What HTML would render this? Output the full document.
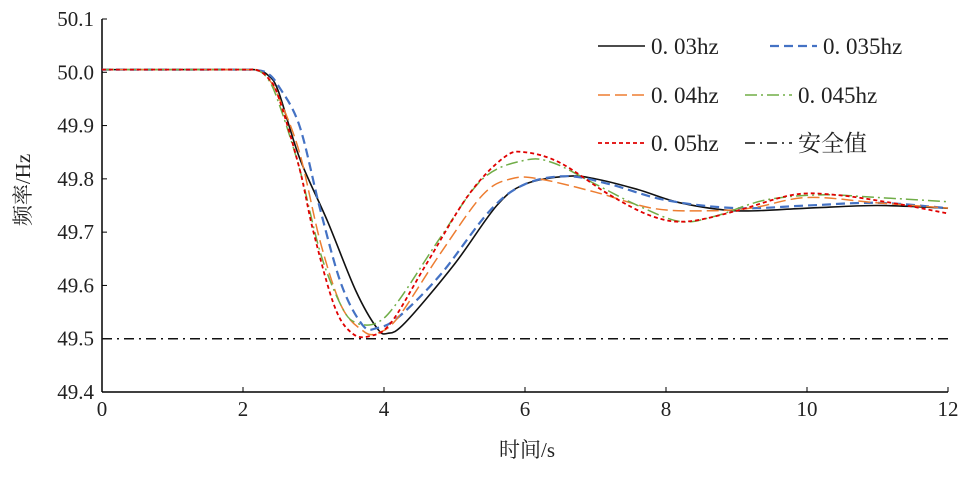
<!DOCTYPE html>
<html><head><meta charset="utf-8"><style>
html,body{margin:0;padding:0;background:#fff}
svg text{font-family:"Liberation Serif","Noto Serif CJK SC",serif;fill:#222}
</style></head><body>
<svg id="c" width="970" height="472" xmlns="http://www.w3.org/2000/svg"></svg>
<script>
const xTicks=[0,2,4,6,8,10,12];
const yTicks=[49.4,49.5,49.6,49.7,49.8,49.9,50.0,50.1];
const safeValue=49.5;
const t03=[0,1,2.0,2.2,2.35,2.5,2.8,3.2,3.6,3.9,4.05,4.3,5.0,5.6,6.0,6.6,7.0,7.6,8.2,9.0,10.0,11.0,12];
const f03=[50.005,50.005,50.005,50.004,49.995,49.965,49.84,49.72,49.59,49.52,49.51,49.53,49.64,49.75,49.79,49.805,49.80,49.78,49.755,49.74,49.745,49.75,49.745];
const t035=[0,1,2.0,2.2,2.35,2.5,2.8,3.1,3.4,3.7,3.9,4.2,4.8,5.5,6.0,6.6,7.2,8.0,9.0,10,11,12];
const f035=[50.005,50.005,50.005,50.004,49.998,49.975,49.90,49.74,49.60,49.525,49.52,49.54,49.62,49.74,49.79,49.805,49.79,49.76,49.745,49.75,49.755,49.745];
const t04=[0,1,2.0,2.2,2.35,2.5,2.8,3.1,3.4,3.7,3.9,4.2,4.8,5.4,5.8,6.2,7.0,7.8,8.5,9.2,10,11,12];
const f04=[50.005,50.005,50.005,50.004,49.99,49.955,49.85,49.68,49.56,49.515,49.51,49.54,49.66,49.77,49.80,49.80,49.775,49.745,49.74,49.745,49.765,49.755,49.745];
const t045=[0,1,2.0,2.2,2.35,2.5,2.8,3.1,3.4,3.6,3.9,4.2,4.8,5.4,6.0,6.4,7.0,7.6,8.2,8.7,9.4,10.2,11,12];
const f045=[50.005,50.005,50.005,50.004,49.988,49.945,49.82,49.66,49.56,49.53,49.53,49.57,49.69,49.80,49.835,49.83,49.79,49.75,49.72,49.73,49.76,49.77,49.765,49.757];
const t05=[0,1,2.0,2.2,2.35,2.5,2.8,3.0,3.3,3.55,3.8,4.1,4.6,5.2,5.7,6.0,6.5,7.2,7.8,8.3,9.0,9.8,10.4,11.2,12];
const f05=[50.005,50.005,50.005,50.004,49.99,49.955,49.82,49.70,49.56,49.51,49.505,49.53,49.64,49.77,49.84,49.85,49.83,49.77,49.73,49.72,49.74,49.77,49.77,49.755,49.735];

const NS="http://www.w3.org/2000/svg";
const svg=document.getElementById('c');
const X0=102,X1=948,Y0=392,Y1=19;
const xs=t=>X0+(t-0)/12*(X1-X0);
const ys=f=>Y0-(f-49.4)/0.7*(Y0-Y1);
function mk(tag,attrs,parent){const e=document.createElementNS(NS,tag);for(const k in attrs)e.setAttribute(k,attrs[k]);(parent||svg).appendChild(e);return e;}
function smooth(ts,fs){const p=ts.map((t,i)=>[xs(t),ys(fs[i])]);let d=`M${p[0][0]},${p[0][1]}`;
for(let i=0;i<p.length-1;i++){const p0=p[Math.max(0,i-1)],p1=p[i],p2=p[i+1],p3=p[Math.min(p.length-1,i+2)];
const c1=[p1[0]+(p2[0]-p0[0])/6,p1[1]+(p2[1]-p0[1])/6],c2=[p2[0]-(p3[0]-p1[0])/6,p2[1]-(p3[1]-p1[1])/6];
d+=`C${c1[0]},${c1[1]} ${c2[0]},${c2[1]} ${p2[0]},${p2[1]}`;}return d;}

let a=mk('line',{x1:X0,y1:Y1,x2:X0,y2:Y0,stroke:'#000','stroke-width':1.5});

a=mk('line',{x1:X0,y1:Y0,x2:X1,y2:Y0,stroke:'#000','stroke-width':1.5});

xTicks.forEach(v=>{const l=mk('line',{x1:xs(v),y1:Y0,x2:xs(v),y2:Y0-5,stroke:'#000'});

const t=mk('text',{x:xs(v),y:Y0+24,'text-anchor':'middle','font-size':21});t.textContent=v;
});
yTicks.forEach(v=>{const l=mk('line',{x1:X0,y1:ys(v),x2:X0+5,y2:ys(v),stroke:'#000'});

const t=mk('text',{x:X0-8,y:ys(v)+7,'text-anchor':'end','font-size':21});t.textContent=v.toFixed(1);
});
let tt=mk('text',{x:527,y:457,'text-anchor':'middle','font-size':21});tt.textContent='时间/s';

tt=mk('text',{x:0,y:0,'text-anchor':'middle','font-size':21,transform:'translate(30,190) rotate(-90)'});tt.textContent='频率/Hz';


let s=mk('line',{x1:X0,y1:ys(safeValue),x2:X1,y2:ys(safeValue),stroke:'#111','stroke-width':1.5,'stroke-dasharray':'10 5 2 5'});


const series=[
 {n:'series-0-03hz',t:t03,f:f03,c:'#111',d:'',w:1.6},
 {n:'series-0-035hz',t:t035,f:f035,c:'#4472c4',d:'9 5',w:2.2},
 {n:'series-0-04hz',t:t04,f:f04,c:'#ed7d31',d:'12 5',w:1.5},
 {n:'series-0-045hz',t:t045,f:f045,c:'#70ad47',d:'12 4 2 4',w:1.5},
 {n:'series-0-05hz',t:t05,f:f05,c:'#e00000',d:'4 3',w:1.8}];
series.forEach(o=>{const p=mk('path',{d:smooth(o.t,o.f),fill:'none',stroke:o.c,'stroke-width':o.w,'stroke-dasharray':o.d});
});

const leg=[
 {x:598,y:46,c:'#111',d:'',w:1.6,l:'0. 03hz'},
 {x:770,y:46,c:'#4472c4',d:'9 5',w:2.2,l:'0. 035hz'},
 {x:598,y:95,c:'#ed7d31',d:'12 5',w:1.5,l:'0. 04hz'},
 {x:745,y:95,c:'#70ad47',d:'12 4 2 4',w:1.5,l:'0. 045hz'},
 {x:598,y:143,c:'#e00000',d:'4 3',w:1.8,l:'0. 05hz'},
 {x:745,y:143,c:'#111',d:'10 5 2 5',w:1.5,l:'安全值'}];
leg.forEach(o=>{const g=mk('g',{});
mk('line',{x1:o.x,y1:o.y,x2:o.x+47,y2:o.y,stroke:o.c,'stroke-width':o.w,'stroke-dasharray':o.d},g);
const t=mk('text',{x:o.x+53,y:o.y+8,'font-size':23},g);t.textContent=o.l;});
</script>
</body></html>
